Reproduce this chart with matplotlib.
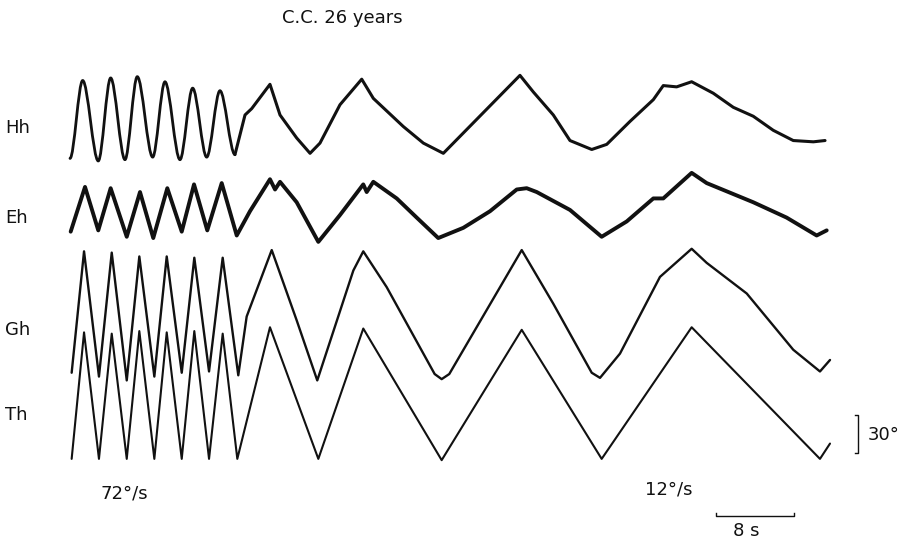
import matplotlib
matplotlib.use("Agg")
import matplotlib.pyplot as plt
from matplotlib.path import Path
from matplotlib.patches import PathPatch

# ---- recorded traces: time (s) and angle (deg) ----
# Th: target position
th_t = [0.17, 1.44, 2.97, 4.28, 5.82, 7.11, 8.65, 9.92, 11.46, 12.75, 14.26, 15.66,
        17.16, 20.51, 25.47, 30.08, 38.12, 46.33, 54.53, 63.76, 76.92, 77.95]
th_deg = [-50, 49, -50, 48, -50, 50, -50, 49, -50, 50, -50, 48,
          -50, 53, -50, 52, -51, 51, -50, 53, -50, -38]

# Gh: gaze position
gh_t = [0.17, 1.44, 2.97, 4.28, 5.82, 7.11, 8.65, 9.92, 11.46, 12.75, 14.26, 15.66,
        17.26, 18.12, 20.69, 23.25, 25.36, 29.06, 30.08, 32.48, 37.4, 38.12, 38.9,
        46.33, 49.57, 53.51, 54.36, 56.41, 60.51, 63.76, 65.3, 69.41, 74.18, 76.92, 77.95]
gh_deg = [-46, 49, -49, 48, -52, 45, -49, 45, -46, 44, -45, 44,
          -48, -2, 50, -5, -52, 34, 49, 21, -47, -51, -47,
          50, 8, -46, -50, -31, 29, 51, 40, 16, -28, -45, -36]

# Eh: eye-in-head position
eh_t = [0.07, 1.54, 2.9, 4.17, 5.82, 7.18, 8.54, 9.98, 11.46, 12.72, 14.08, 15.56,
        17.1, 18.46, 20.51, 21.03, 21.54, 23.25, 25.47, 27.69, 30.08, 30.43, 31.11,
        33.51, 35.56, 37.77, 40.34, 43.08, 45.82, 46.84, 47.87, 51.28, 54.53, 57.1,
        59.83, 60.85, 63.76, 65.3, 70.08, 73.5, 76.58, 77.61]
eh_deg = [-17, 18, -16, 17, -21, 14, -22, 17, -17, 20, -16, 21,
          -20, -1, 24, 16, 22, 6, -25, -4, 20, 14, 22,
          9, -6, -22, -14, -1, 16, 17, 14, 0, -21, -9,
          9, 9, 29, 21, 6, -6, -20, -16]

# Hh: head position (fast part given as turning points, slow part as a trace)
hh_fast_t = [0.0, 1.30, 2.90, 4.17, 5.64, 6.90, 8.48, 9.74, 11.28, 12.58, 14.02, 15.38, 16.92]
hh_fast_deg = [-34, 27, -36, 29, -35, 30, -33, 26, -35, 21, -33, 19, -31]
hh_slow_t = [16.92, 17.95, 18.64, 20.51, 21.54, 23.25, 24.62, 25.64, 27.69, 29.92,
             31.11, 34.18, 36.24, 38.29, 46.15, 47.52, 49.57, 51.28, 53.51, 55.05,
             57.44, 59.83, 60.85, 62.22, 63.76, 65.98, 68.03, 70.08, 72.13, 74.18,
             76.24, 77.44]
hh_slow_deg = [-31, 0, 5, 24, 0, -18, -30, -22, 8, 28,
               13, -9, -22, -30, 31, 18, 0, -20, -27, -23,
               -5, 12, 23, 22, 26, 17, 6, -1, -12, -20,
               -21, -20]

channel_labels = ["Hh", "Eh", "Gh", "Th"]
title = "C.C. 26 years"
fast_label = "72°/s"
slow_label = "12°/s"
time_bar_s = 8
angle_bar_deg = 30

# ---- layout ----
W, H = 910, 544
PX_PER_S = 9.75
PX_PER_DEG = 1.278
T0_PX = 70
offsets = {"Hh": 335.7, "Eh": 261.4, "Gh": 180.0, "Th": 116.6}

fig = plt.figure(figsize=(W / 100, H / 100), dpi=100)
fig.patch.set_facecolor("white")
ax = fig.add_axes([0, 0, 1, 1])
ax.set_xlim(-T0_PX / PX_PER_S, (W - T0_PX) / PX_PER_S)
ax.set_ylim(0, H / PX_PER_DEG)
ax.axis("off")

ink = "#111111"


def shifted(values, key):
    return [v + offsets[key] for v in values]


def smooth_turns(t, y):
    """Smooth path through successive turning points (horizontal tangents)."""
    verts = [(t[0], y[0])]
    codes = [Path.MOVETO]
    for i in range(1, len(t)):
        dt = t[i] - t[i - 1]
        verts += [(t[i - 1] + dt / 3, y[i - 1]), (t[i] - dt / 3, y[i]), (t[i], y[i])]
        codes += [Path.CURVE4] * 3
    return Path(verts, codes)


line_kw = dict(color=ink, solid_joinstyle="round", solid_capstyle="round")
ax.plot(th_t, shifted(th_deg, "Th"), lw=1.5, **line_kw)
ax.plot(gh_t, shifted(gh_deg, "Gh"), lw=1.7, **line_kw)
ax.plot(eh_t, shifted(eh_deg, "Eh"), lw=2.8, **line_kw)
ax.add_patch(PathPatch(smooth_turns(hh_fast_t, shifted(hh_fast_deg, "Hh")),
                       fill=False, edgecolor=ink, lw=2.0, capstyle="round", joinstyle="round"))
ax.plot(hh_slow_t, shifted(hh_slow_deg, "Hh"), lw=2.2, **line_kw)

# time scale bar with upturned ends
bar_t0, bar_v = 66.26, 22.1
ax.plot([bar_t0, bar_t0, bar_t0 + time_bar_s, bar_t0 + time_bar_s],
        [bar_v + 2.3, bar_v, bar_v, bar_v + 2.3], color=ink, lw=1.0)
# angle calibration bracket
br_t, br_v = 80.8, 71.2
ax.plot([br_t - 0.3, br_t, br_t, br_t - 0.3],
        [br_v, br_v, br_v + angle_bar_deg, br_v + angle_bar_deg], color=ink, lw=1.0)


def ptext(x, y, s, ha="left"):
    fig.text(x / W, 1 - y / H, s, ha=ha, va="center", fontsize=13,
             family="DejaVu Sans", color=ink)


for name, ypix in zip(channel_labels, [128, 218, 330, 415]):
    ptext(5, ypix, name)
ptext(282, 18, title)
ptext(100, 493, fast_label)
ptext(645, 490, slow_label)
ptext(746, 531, f"{time_bar_s} s", ha="center")
ptext(868, 435, f"{angle_bar_deg}°")

fig.savefig("out.png", dpi=100, facecolor="white")
